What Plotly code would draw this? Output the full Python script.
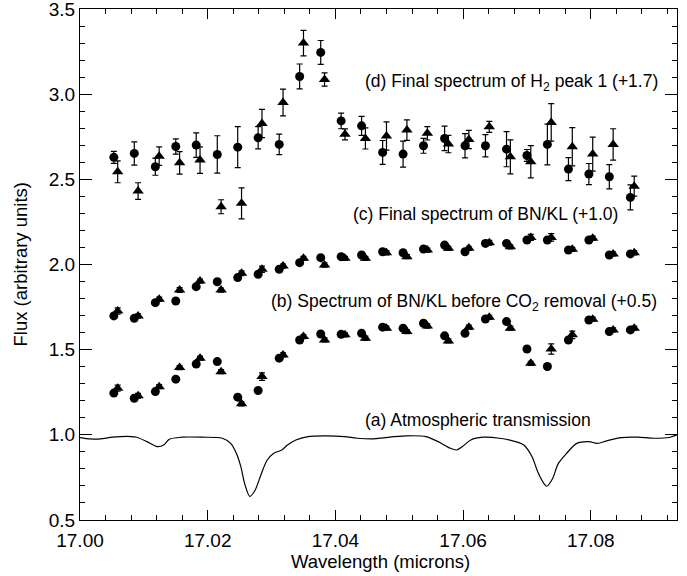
import plotly.graph_objects as go

# ---------------- data ----------------
wl_circle = [17.0053, 17.0085, 17.0118, 17.0150, 17.0182, 17.0215, 17.0247, 17.0279,
             17.0312, 17.0344, 17.0377, 17.0409, 17.0441, 17.0474, 17.0506, 17.0538,
             17.0571, 17.0603, 17.0635, 17.0668, 17.0700, 17.0732, 17.0765, 17.0797,
             17.0829, 17.0862]
wl_tri = [17.0059, 17.0091, 17.0124, 17.0156, 17.0188, 17.0221, 17.0253, 17.0285,
          17.0318, 17.0350, 17.0383, 17.0415, 17.0447, 17.0480, 17.0512, 17.0544,
          17.0577, 17.0609, 17.0641, 17.0674, 17.0706, 17.0738, 17.0771, 17.0803,
          17.0835, 17.0868]

# (d) Final spectrum of H2 peak 1 (+1.7)
d_circle = [2.629, 2.652, 2.574, 2.693, 2.701, 2.646, 2.689, 2.744, 2.705, 3.104,
            3.245, 2.843, 2.814, 2.658, 2.648, 2.697, 2.740, 2.697, 2.697, 2.677,
            2.640, 2.705, 2.560, 2.531, 2.515, 2.394]
d_circle_err = [0.035, 0.068, 0.050, 0.045, 0.072, 0.110, 0.120, 0.065, 0.060, 0.073,
                0.070, 0.046, 0.056, 0.070, 0.076, 0.044, 0.072, 0.071, 0.065, 0.103,
                0.035, 0.120, 0.068, 0.062, 0.071, 0.073]
d_tri = [2.544, 2.431, 2.636, 2.597, 2.613, 2.339, 2.359, 2.828, 2.951, 3.300,
         3.086, 2.764, 2.740, 2.754, 2.789, 2.770, 2.707, 2.734, 2.808, 2.632,
         2.603, 2.834, 2.691, 2.648, 2.705, 2.460]
d_tri_err = [0.064, 0.049, 0.054, 0.066, 0.078, 0.041, 0.091, 0.083, 0.079, 0.075,
             0.039, 0.032, 0.062, 0.083, 0.060, 0.039, 0.051, 0.054, 0.032, 0.100,
             0.095, 0.110, 0.112, 0.100, 0.092, 0.059]

# (c) Final spectrum of BN/KL (+1.0)
c_circle = [1.698, 1.684, 1.776, 1.786, 1.870, 1.899, 1.923, 1.943, 1.972, 2.011,
            2.040, 2.046, 2.056, 2.075, 2.069, 2.091, 2.114, 2.075, 2.124, 2.124,
            2.144, 2.144, 2.085, 2.144, 2.056, 2.062]
c_circle_err = [0.012, 0.010, 0.012, 0.010, 0.012, 0.012, 0.014, 0.012, 0.010, 0.012,
                0.010, 0.012, 0.010, 0.012, 0.010, 0.012, 0.012, 0.010, 0.012, 0.012,
                0.014, 0.012, 0.012, 0.012, 0.010, 0.010]
c_tri = [1.727, 1.698, 1.796, 1.850, 1.903, 1.850, 1.948, 1.972, 1.991, 2.036,
         1.997, 2.036, 2.036, 2.069, 2.046, 2.085, 2.095, 2.095, 2.128, 2.104,
         2.159, 2.159, 2.089, 2.154, 2.062, 2.069]
c_tri_err = [0.018, 0.012, 0.012, 0.014, 0.012, 0.012, 0.014, 0.018, 0.012, 0.012,
             0.012, 0.012, 0.012, 0.012, 0.012, 0.012, 0.012, 0.012, 0.014, 0.012,
             0.018, 0.022, 0.012, 0.012, 0.012, 0.012]

# (b) Spectrum of BN/KL before CO2 removal (+0.5)
b_circle = [1.245, 1.215, 1.254, 1.327, 1.416, 1.430, 1.221, 1.260, 1.450, 1.557,
            1.592, 1.590, 1.596, 1.632, 1.626, 1.655, 1.581, 1.596, 1.680, 1.665,
            1.504, 1.401, 1.557, 1.674, 1.606, 1.616]
b_circle_err = [0.012, 0.010, 0.012, 0.010, 0.012, 0.012, 0.012, 0.012, 0.010, 0.012,
                0.010, 0.012, 0.010, 0.012, 0.010, 0.012, 0.012, 0.010, 0.012, 0.012,
                0.010, 0.010, 0.012, 0.012, 0.010, 0.010]
b_tri = [1.274, 1.229, 1.283, 1.395, 1.450, 1.371, 1.182, 1.342, 1.469, 1.577,
         1.557, 1.587, 1.567, 1.626, 1.606, 1.639, 1.551, 1.632, 1.690, 1.626,
         1.420, 1.504, 1.587, 1.679, 1.616, 1.626]
b_tri_err = [0.018, 0.014, 0.012, 0.012, 0.012, 0.012, 0.012, 0.022, 0.012, 0.012,
             0.012, 0.012, 0.012, 0.012, 0.012, 0.012, 0.012, 0.012, 0.012, 0.012,
             0.012, 0.030, 0.022, 0.012, 0.012, 0.012]

# (a) Atmospheric transmission
atm_wl = [17.0000, 17.0016, 17.0032, 17.0051, 17.0080, 17.0089, 17.0105, 17.0121,
          17.0131, 17.0140, 17.0159, 17.0191, 17.0223, 17.0236, 17.0245, 17.0252,
          17.0258, 17.0266, 17.0274, 17.0284, 17.0293, 17.0303, 17.0316, 17.0325,
          17.0338, 17.0357, 17.0383, 17.0414, 17.0434, 17.0459, 17.0478, 17.0510,
          17.0542, 17.0561, 17.0580, 17.0590, 17.0599, 17.0612, 17.0631, 17.0657,
          17.0682, 17.0695, 17.0708, 17.0717, 17.0727, 17.0731, 17.0740, 17.0749,
          17.0762, 17.0778, 17.0797, 17.0810, 17.0826, 17.0848, 17.0873, 17.0899,
          17.0924, 17.0935]
atm_tr = [0.984, 0.976, 0.976, 0.986, 0.990, 0.986, 0.960, 0.931,
          0.940, 0.974, 0.986, 0.986, 0.980, 0.950, 0.891, 0.812,
          0.712, 0.639, 0.673, 0.772, 0.851, 0.891, 0.911, 0.940,
          0.970, 0.990, 0.994, 0.990, 0.980, 0.976, 0.984, 0.994,
          0.990, 0.960, 0.921, 0.911, 0.931, 0.970, 0.986, 0.980,
          0.960, 0.940, 0.871, 0.782, 0.712, 0.698, 0.742, 0.831,
          0.891, 0.950, 0.960, 0.950, 0.966, 0.984, 0.986, 0.980,
          0.986, 1.000]

labels = ["(d) Final spectrum of H<sub>2</sub> peak 1 (+1.7)",
          "(c) Final spectrum of BN/KL (+1.0)",
          "(b) Spectrum of BN/KL before CO<sub>2</sub> removal (+0.5)",
          "(a) Atmospheric transmission"]
label_x = [17.0443, 17.0424, 17.0296, 17.0443]
label_y = [3.068, 2.299, 1.777, 1.085]

x_ticks = [17.00, 17.02, 17.04, 17.06, 17.08]
y_ticks = [0.5, 1.0, 1.5, 2.0, 2.5, 3.0, 3.5]

x_title = "Wavelength (microns)"
y_title = "Flux (arbitrary units)"

FONT = "Liberation Sans, Arial, sans-serif"

fig = go.Figure()

fig.add_trace(go.Scatter(x=atm_wl, y=atm_tr, mode="lines",
                         line=dict(color="black", width=1.2, shape="spline", smoothing=0.8),
                         hoverinfo="skip"))

def add_points(x, y, err, symbol, size):
    fig.add_trace(go.Scatter(
        x=x, y=y, mode="markers",
        marker=dict(symbol=symbol, size=size, color="black"),
        error_y=dict(type="data", array=err, visible=True, color="black",
                     thickness=1.2, width=3),
    ))

for yc, ec, yt, et in [(d_circle, d_circle_err, d_tri, d_tri_err),
                       (c_circle, c_circle_err, c_tri, c_tri_err),
                       (b_circle, b_circle_err, b_tri, b_tri_err)]:
    add_points(wl_circle, yc, ec, "circle", 9)
    add_points(wl_tri, yt, et, "triangle-up", 10)

for txt, xx, yy in zip(labels, label_x, label_y):
    fig.add_annotation(x=xx, y=yy, xref="x", yref="y", text=txt, showarrow=False,
                       xanchor="left", yanchor="middle",
                       font=dict(family=FONT, size=17.5, color="black"))

# axis titles
fig.add_annotation(x=0.5038, y=-0.082, xref="paper", yref="paper", text=x_title,
                   showarrow=False, xanchor="center", yanchor="middle",
                   font=dict(family=FONT, size=18.5, color="black"))
fig.add_annotation(x=-0.1005, y=0.5, xref="paper", yref="paper", text=y_title,
                   textangle=-90, showarrow=False, xanchor="center", yanchor="middle",
                   font=dict(family=FONT, size=18.5, color="black"))

axis_common = dict(showline=True, linecolor="black", linewidth=1, mirror="ticks",
                   ticks="inside", tickcolor="black", tickwidth=1,
                   showgrid=False, zeroline=False, automargin=False,
                   ticklabeloverflow="allow",
                   tickfont=dict(family=FONT, size=19, color="black"))

fig.update_xaxes(range=[17.0, 17.0935], tickvals=x_ticks,
                 ticktext=[f"{v:.2f}" for v in x_ticks], ticklen=10,
                 ticklabelstandoff=3,
                 minor=dict(dtick=0.004, tick0=17.0, ticks="inside", ticklen=5,
                            tickcolor="black", showgrid=False),
                 **axis_common)
fig.update_yaxes(range=[0.5, 3.5], tickvals=y_ticks,
                 ticktext=[f"{v:.1f}" for v in y_ticks], ticklen=12,
                 minor=dict(dtick=0.1, tick0=0.5, ticks="inside", ticklen=5,
                            tickcolor="black", showgrid=False),
                 **axis_common)

fig.update_layout(width=687, height=576, showlegend=False,
                  margin=dict(l=80, r=10, t=9, b=56, autoexpand=False),
                  paper_bgcolor="white", plot_bgcolor="white",
                  font=dict(family=FONT, color="black"))

fig.write_html("out.html", config={"displayModeBar": False},
               post_script="document.body.style.margin='0';document.body.style.padding='0';")
